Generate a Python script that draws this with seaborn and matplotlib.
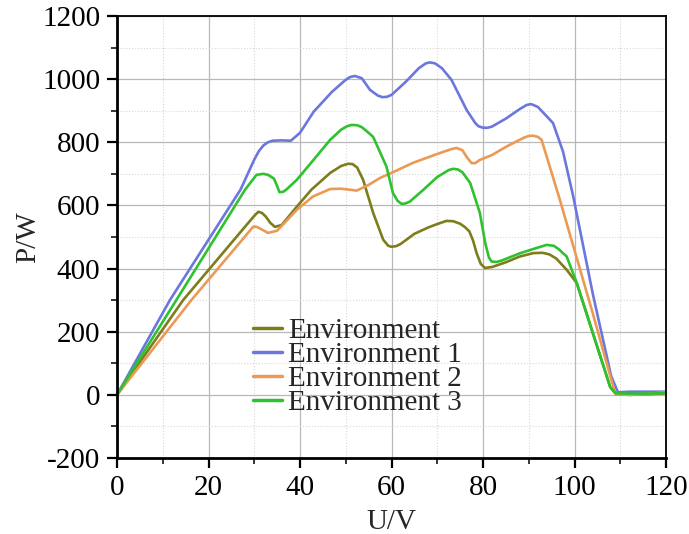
import matplotlib
matplotlib.use("Agg")
import matplotlib.pyplot as plt
import seaborn as sns
import pandas as pd
from matplotlib.ticker import MultipleLocator

# ---- data ----
u_env = [0, 14.5, 29, 30.2, 30.9, 31.7, 32.5, 33.5, 34.5, 36, 39.3, 42.5, 46.6, 49, 50.5, 51.5, 52.5, 53.8, 56, 58.2, 59.3, 60, 61, 62, 65, 68, 70, 72, 73.5, 75, 76, 77, 77.8, 78.6, 79.5, 80.4, 82, 85, 88, 91, 93, 94.5, 96, 98.3, 100.5, 104, 107.8, 109, 112, 116, 120]
p_env = [0, 301, 550, 570, 580, 576, 565, 545, 532, 538, 596, 650, 703, 725, 732, 731, 720, 681, 576, 491, 472, 469, 471, 478, 510, 530, 541, 551, 550, 542, 532, 518, 490, 449, 415, 402, 405, 420, 438, 449, 450, 445, 432, 396, 354, 196, 25, 3, 0, 2, 5]

u_env1 = [0, 11.6, 27, 30, 31, 32, 33, 34, 36, 38, 40, 43, 47, 50, 51, 52, 53.5, 55.3, 57, 58, 59, 60, 63, 66, 67.5, 68.4, 69.5, 71, 73.1, 76.4, 78.3, 79, 80, 81, 82, 85, 88, 89.5, 90.5, 92, 95.3, 97.5, 99.7, 104, 108, 109.5, 112, 116, 120]
p_env1 = [0, 301, 650, 745, 772, 790, 800, 805, 806, 805, 830, 897, 960, 998, 1007, 1010, 1003, 966, 948, 943, 944, 950, 990, 1035, 1050, 1053, 1050, 1035, 998, 903, 861, 851, 846, 846, 850, 875, 905, 918, 921, 912, 861, 770, 630, 320, 60, 8, 10, 10, 10]

u_env2 = [0, 16.3, 29.8, 30.6, 31.5, 33, 35, 39.3, 42.8, 46.6, 49, 52.4, 55, 57.5, 60, 64.7, 70, 73, 74.2, 75.5, 76.5, 77.5, 78.3, 79.3, 82, 85.2, 89, 90, 91, 92, 92.8, 96.8, 100, 104, 108, 109, 112, 116, 120]
p_env2 = [0, 301, 533, 532, 525, 513, 520, 586, 628, 652, 653, 647, 665, 687, 703, 735, 763, 778, 782, 775, 752, 734, 734, 744, 760, 787, 815, 820, 821, 817, 808, 618, 458, 258, 50, 2, 0, 3, 8]

u_env3 = [0, 13, 28, 30.5, 32, 33, 34.3, 34.9, 35.5, 36.3, 37, 39.3, 43, 46.6, 49, 50.3, 51.3, 52.5, 53.5, 55, 56, 58.9, 60.3, 61.3, 62.2, 63, 64, 67, 70, 72.5, 73.5, 74.5, 75.5, 77.2, 79.3, 80.5, 81.3, 81.9, 83, 84, 88, 91, 93.9, 95.5, 96.5, 98.3, 100.5, 104, 107.8, 109, 112, 116, 120]
p_env3 = [0, 301, 650, 697, 700, 697, 685, 665, 642, 643, 650, 681, 745, 808, 840, 851, 855, 854, 848, 830, 817, 723, 640, 615, 605, 606, 612, 650, 690, 712, 716, 714, 705, 671, 577, 480, 435, 422, 421, 425, 448, 462, 475, 472, 462, 438, 354, 196, 25, 5, 4, 4, 6]

labels = ["Environment", "Environment 1", "Environment 2", "Environment 3"]
colors = ["#7d7d1c", "#6b77dd", "#eb9a55", "#2fc22f"]

x_ticks = [0, 20, 40, 60, 80, 100, 120]
y_ticks = [-200, 0, 200, 400, 600, 800, 1000, 1200]

# ---- build long-form table ----
frames = []
for lab, u, p in zip(labels, [u_env, u_env1, u_env2, u_env3], [p_env, p_env1, p_env2, p_env3]):
    frames.append(pd.DataFrame({"U": u, "P": p, "series": lab}))
df = pd.concat(frames, ignore_index=True)

sns.set_theme(style="white")
plt.rcParams['font.family'] = ['Liberation Serif', 'DejaVu Serif']
plt.rcParams['axes.unicode_minus'] = False

fig = plt.figure(figsize=(6.89, 5.34), dpi=100)
ax = fig.add_axes([117/689, 1 - 458/534, (666-117)/689, (458-16)/534])

sns.lineplot(data=df, x="U", y="P", hue="series", hue_order=labels,
             palette=colors, estimator=None, sort=False, linewidth=1.9, ax=ax)
for ln in ax.get_lines():
    ln.set_solid_joinstyle("round")
    ln.set_solid_capstyle("round")

ax.set_xlim(0, 120)
ax.set_ylim(-200, 1200)
ax.set_xticks(x_ticks)
ax.set_yticks(y_ticks)
ax.xaxis.set_minor_locator(MultipleLocator(10))
ax.yaxis.set_minor_locator(MultipleLocator(100))

ax.grid(which="major", color="#b8b8b8", linestyle="-", linewidth=0.9)
ax.grid(which="minor", color="#d8d8d8", linestyle=":", linewidth=0.8)
ax.set_axisbelow(True)

for s in ["left", "bottom"]:
    ax.spines[s].set_linewidth(2.0)
    ax.spines[s].set_color("black")
for s in ["top", "right"]:
    ax.spines[s].set_linewidth(1.3)
    ax.spines[s].set_color("black")

ax.tick_params(which="major", direction="out", length=7, width=1.6, labelsize=21,
               bottom=True, left=True, top=False, right=False, colors="black", pad=5)
ax.tick_params(which="minor", direction="out", length=4, width=1.3,
               bottom=True, left=True, top=False, right=False)

ax.set_xlabel("U/V", fontsize=21, labelpad=6)
ax.set_ylabel("P/W", fontsize=21, labelpad=1)

leg = ax.legend(loc="upper left", bbox_to_anchor=(0.248, 0.318), frameon=False,
                fontsize=21, handlelength=1.0, handletextpad=0.2,
                labelspacing=-0.08, borderpad=0, borderaxespad=0)
for h in leg.get_lines():
    h.set_linewidth(2.5)

fig.savefig("out.png", dpi=100)
